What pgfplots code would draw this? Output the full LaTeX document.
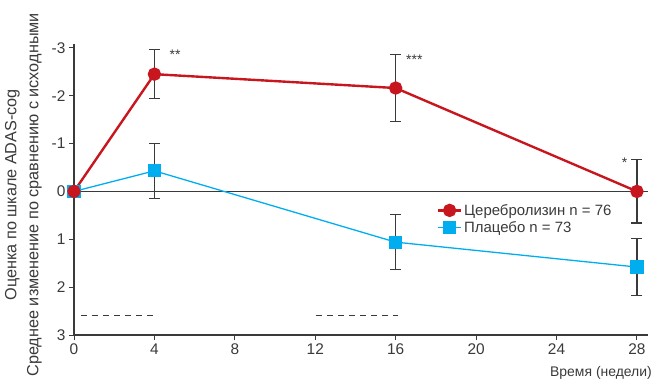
\documentclass[border=0pt]{standalone}
\usepackage{pgfplots}
\pgfplotsset{compat=1.18}
\usepackage{fontspec}
\setmainfont{Liberation Sans}
\definecolor{cred}{HTML}{C8161E}
\definecolor{cblue}{HTML}{00AEEF}
\definecolor{axgray}{HTML}{3A3A3A}
\begin{document}
\begin{tikzpicture}
\useasboundingbox (-74bp,-48bp) rectangle (578bp,335bp);
\begin{axis}[
  at={(0,0)}, anchor=south west,
  scale only axis, width=574bp, height=291bp,
  xmin=0, xmax=28.55, ymin=-3.08, ymax=3, y dir=reverse,
  axis lines*=left,
  axis line style={axgray, line width=1.4pt, -},
  xtick={0,4,...,28}, ytick={-3,-2,-1,0,1,2,3},
  yticklabels={-3,-2,-1,0,1,2,3},
  /pgf/number format/assume math mode=true,
  tick align=outside, major tick length=5bp,
  tick style={axgray, line width=1pt},
  ticklabel style={font=\fontsize{15.5}{17}\selectfont, text=axgray},
  xlabel={Время (недели)},
  xlabel style={at={(axis description cs:1,0)}, anchor=north east, xshift=4bp, yshift=-31bp, font=\fontsize{14}{16}\selectfont, text=axgray, inner sep=0pt},
  ylabel={Оценка по шкале ADAS-cog\\Среднее изменение по сравнению с исходными},
  ylabel style={align=center, font=\fontsize{16.3}{22}\selectfont, text=axgray, at={(axis description cs:-0.056,0.482)}, anchor=south, inner sep=0pt},
  clip=false,
  reverse legend,
  legend style={draw=none, fill=none, font=\fontsize{15}{17}\selectfont, text=axgray, at={(axis cs:18.0,0.2)}, anchor=north west, row sep=1bp, inner sep=1pt},
  legend cell align=left,
  legend image code/.code={\draw[mark repeat=2,mark phase=2,#1] plot coordinates {(0cm,0cm) (0.4cm,0cm) (0.8cm,0cm)};},
]
% zero line
\draw[axgray, line width=1.4pt] (axis cs:0,0) -- (axis cs:28.55,0);
% dashed reference segments
\addplot[forget plot, axgray, line width=0.8pt, dash pattern=on 6bp off 5bp] coordinates {(0.36,2.6) (4.0,2.6)};
\addplot[forget plot, axgray, line width=0.8pt, dash pattern=on 6bp off 5bp] coordinates {(12.05,2.6) (16.1,2.6)};
% error bars (drawn first, under markers)
\addplot[forget plot, draw=none, mark=none,
  error bars/.cd, y dir=both, y explicit,
  error bar style={draw=axgray, solid, line width=1.2pt},
  error mark options={rotate=90, mark size=5.5bp, draw=axgray, line width=1.2pt}]
  coordinates {(4,-0.43) +- (0,0.57) (16,1.06) +- (0,0.57) (28,1.58) +- (0,0.59)};
\addplot[forget plot, draw=none, mark=none,
  error bars/.cd, y dir=both, y explicit,
  error bar style={draw=axgray, solid, line width=1.2pt},
  error mark options={rotate=90, mark size=5.5bp, draw=axgray, line width=1.2pt}]
  coordinates {(4,-2.45) +- (0,0.51) (16,-2.16) +- (0,0.70) (28,0) +- (0,0.66)};
% series
\addplot[cblue, line width=1.3pt, mark=square*, mark size=6bp, mark options={solid, fill=cblue, draw=cblue}]
  coordinates {(0,0) (4,-0.43) (16,1.06) (28,1.58)};
\addlegendentry{Плацебо n = 73}
\addplot[cred, line width=2.4pt, mark=*, mark size=5.5bp, mark options={solid, fill=cred, draw=cred}]
  coordinates {(0,0) (4,-2.45) (16,-2.16) (28,0)};
\addlegendentry{Церебролизин n = 76}
% significance markers
\node[font=\fontsize{14}{14}\selectfont, text=axgray, anchor=west] at (axis cs:4.58,-2.86) {**};
\node[font=\fontsize{14}{14}\selectfont, text=axgray, anchor=west] at (axis cs:16.35,-2.75) {***};
\node[font=\fontsize{14}{14}\selectfont, text=axgray, anchor=east] at (axis cs:27.7,-0.6) {*};
\end{axis}
\end{tikzpicture}
\end{document}
